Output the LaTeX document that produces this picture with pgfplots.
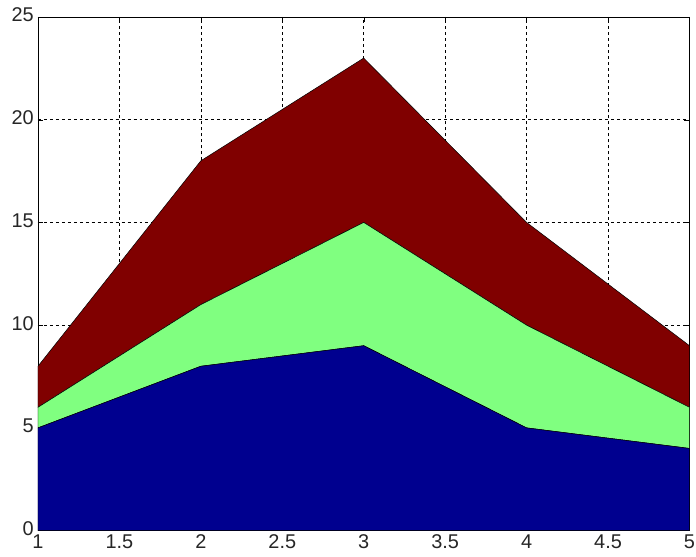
\documentclass[border=0pt]{standalone}
\usepackage{pgfplots}
\pgfplotsset{compat=1.18}
\usepackage{fontspec}
\setmainfont{Liberation Sans}
\definecolor{jetblue}{RGB}{0,0,143}
\definecolor{jetgreen}{RGB}{128,255,128}
\definecolor{jetred}{RGB}{128,0,0}
\begin{document}
\begin{tikzpicture}[x=1bp,y=1bp]
\begin{axis}[
    at={(0,0)},
    anchor=south west,
    scale only axis,
    width=652bp,
    height=514bp,
    set layers,
    xmin=1, xmax=5,
    ymin=0, ymax=25,
    xtick={1,1.5,...,5},
    ytick={0,5,...,25},
    xticklabels={1,1.5,2,2.5,3,3.5,4,4.5,5},
    grid=major,
    grid style={dashed, black, line width=0.6pt},
    axis line style={black, line width=0.8pt},
    tick style={black},
    tick align=inside,
    major tick length=5bp,
    tick label style={font=\fontsize{20}{23}\selectfont, text=black!85, inner sep=1bp},
    /pgf/number format/assume math mode=true,
    xticklabel style={yshift=-3bp},
    yticklabel style={xshift=-3bp, yshift=2bp},
    stack plots=y,
    area style,
    axis on top=false,
]
\addplot[fill=jetblue, draw=black, line width=0.5pt] coordinates {
    (1,5) (2,8) (3,9) (4,5) (5,4)
} \closedcycle;
\addplot[fill=jetgreen, draw=black, line width=0.5pt] coordinates {
    (1,1) (2,3) (3,6) (4,5) (5,2)
} \closedcycle;
\addplot[fill=jetred, draw=black, line width=0.5pt] coordinates {
    (1,2) (2,7) (3,8) (4,5) (5,3)
} \closedcycle;
\end{axis}
\useasboundingbox (-38bp,-26bp) rectangle (658bp,531bp);
\end{tikzpicture}
\end{document}
